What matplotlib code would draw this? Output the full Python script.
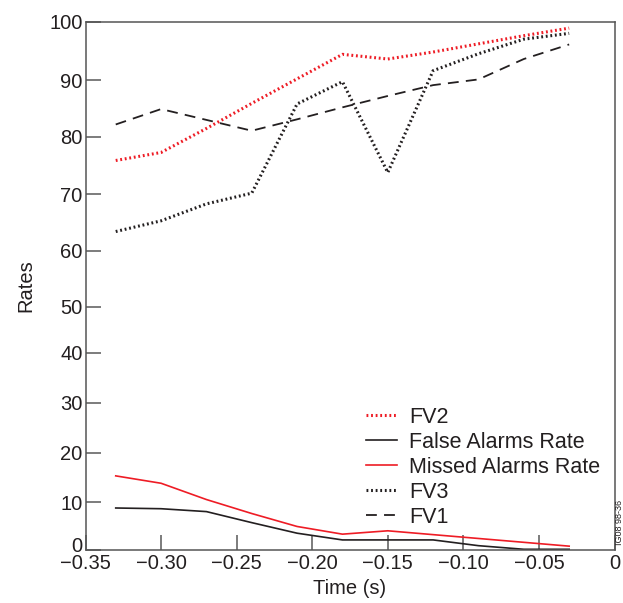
import numpy as np
import matplotlib
matplotlib.use("Agg")
import matplotlib.pyplot as plt
import matplotlib.transforms as mtransforms

plt.rcParams['font.family'] = ['Liberation Sans', 'DejaVu Sans']

time = [-0.33, -0.30, -0.27, -0.24, -0.21, -0.18, -0.15, -0.12, -0.09, -0.06, -0.03]
fv2 = [75.9, 77.3, 81.5, 85.9, 90.2, 94.4, 93.6, 94.8, 96.2, 97.6, 98.9]
fv3 = [63.4, 65.3, 68.3, 70.2, 85.8, 89.7, 73.8, 91.6, 94.5, 97.0, 98.0]
fv1 = [82.2, 84.9, 83.0, 81.1, 83.1, 85.2, 87.2, 89.1, 90.1, 93.6, 96.1]
missed = [15.3, 13.8, 10.5, 7.6, 4.9, 3.3, 4.0, 3.2, 2.4, 1.6, 0.8]
false_alarms = [8.75, 8.6, 8.0, 5.7, 3.5, 2.1, 2.1, 2.1, 0.9, 0.15, 0.15]

yticks = [0, 10, 20, 30, 40, 50, 60, 70, 80, 90, 100]
xticks = [-0.35, -0.30, -0.25, -0.20, -0.15, -0.10, -0.05, 0]
xticklabels = ['\u22120.35', '\u22120.30', '\u22120.25', '\u22120.20', '\u22120.15',
               '\u22120.10', '\u22120.05', '0']
# measured axis positions of y ticks (the printed axis is not evenly spaced)
ytick_pos = np.array([0, 48, 97.3, 147.3, 197.3, 243.3, 299.3, 355.7, 413, 470, 528.3])

RED = '#ee1c25'
BLACK = '#231f20'
GRAY = '#666666'

def fwd(v):
    return np.interp(v, yticks, ytick_pos)

def inv(p):
    return np.interp(p, ytick_pos, yticks)

fig = plt.figure(figsize=(6.23, 6.03), dpi=100)
ax = fig.add_axes([85.5 / 623, 53 / 603, (614.5 - 85.5) / 623, (550 - 21.7) / 603])
ax.set_yscale('function', functions=(fwd, inv))

l_fv2, = ax.plot(time, fv2, color=RED, lw=2.2, linestyle=(0, (0.6, 0.9)), dash_capstyle='butt', label='FV2')
l_false, = ax.plot(time, false_alarms, color=BLACK, lw=1.2, label='False Alarms Rate')
l_missed, = ax.plot(time, missed, color=RED, lw=1.2, label='Missed Alarms Rate')
l_fv3, = ax.plot(time, fv3, color=BLACK, lw=2.2, linestyle=(0, (0.6, 0.9)), dash_capstyle='butt', label='FV3')
l_fv1, = ax.plot(time, fv1, color=BLACK, lw=1.3, linestyle=(0, (6, 4)), label='FV1')

ax.set_xlim(-0.35, 0)
ax.set_ylim(0, 100)
ax.set_xticks(xticks)
ax.set_xticklabels(xticklabels)
ax.set_yticks(yticks)
ax.set_yticklabels([str(t) for t in yticks])
ax.tick_params(direction='in', length=11, width=1.2, color=GRAY, labelsize=14.5,
               pad=3, labelcolor='#231f20')
ax.tick_params(axis='y', pad=2)
for s in ax.spines.values():
    s.set_color('#555555')
    s.set_linewidth(1.1)

# lift the "0" y label a little, as in the original
fig.canvas.draw()
zero_lbl = ax.get_yticklabels()[0]
zero_lbl.set_transform(zero_lbl.get_transform() +
                       mtransforms.ScaledTranslation(0, 6 / 100, fig.dpi_scale_trans))

ax.set_xlabel('Time (s)', fontsize=14.5, color='#231f20', labelpad=4)
ax.set_ylabel('Rates', fontsize=14.5, color='#231f20', labelpad=10)

leg = ax.legend(handles=[l_fv2, l_false, l_missed, l_fv3, l_fv1],
                loc='lower left', bbox_to_anchor=(366 / 623, (603 - 528) / 603),
                bbox_transform=fig.transFigure, frameon=False, fontsize=15.5,
                handlelength=1.45, handletextpad=0.55, labelspacing=0.19,
                borderpad=0, borderaxespad=0)
for t in leg.get_texts():
    t.set_color('#231f20')

fig.text(615.5 / 623, (603 - 545) / 603, 'IG08 98-36', rotation=90, fontsize=6.5,
         ha='left', va='bottom', color='#231f20')

fig.savefig('out.png', dpi=100)
